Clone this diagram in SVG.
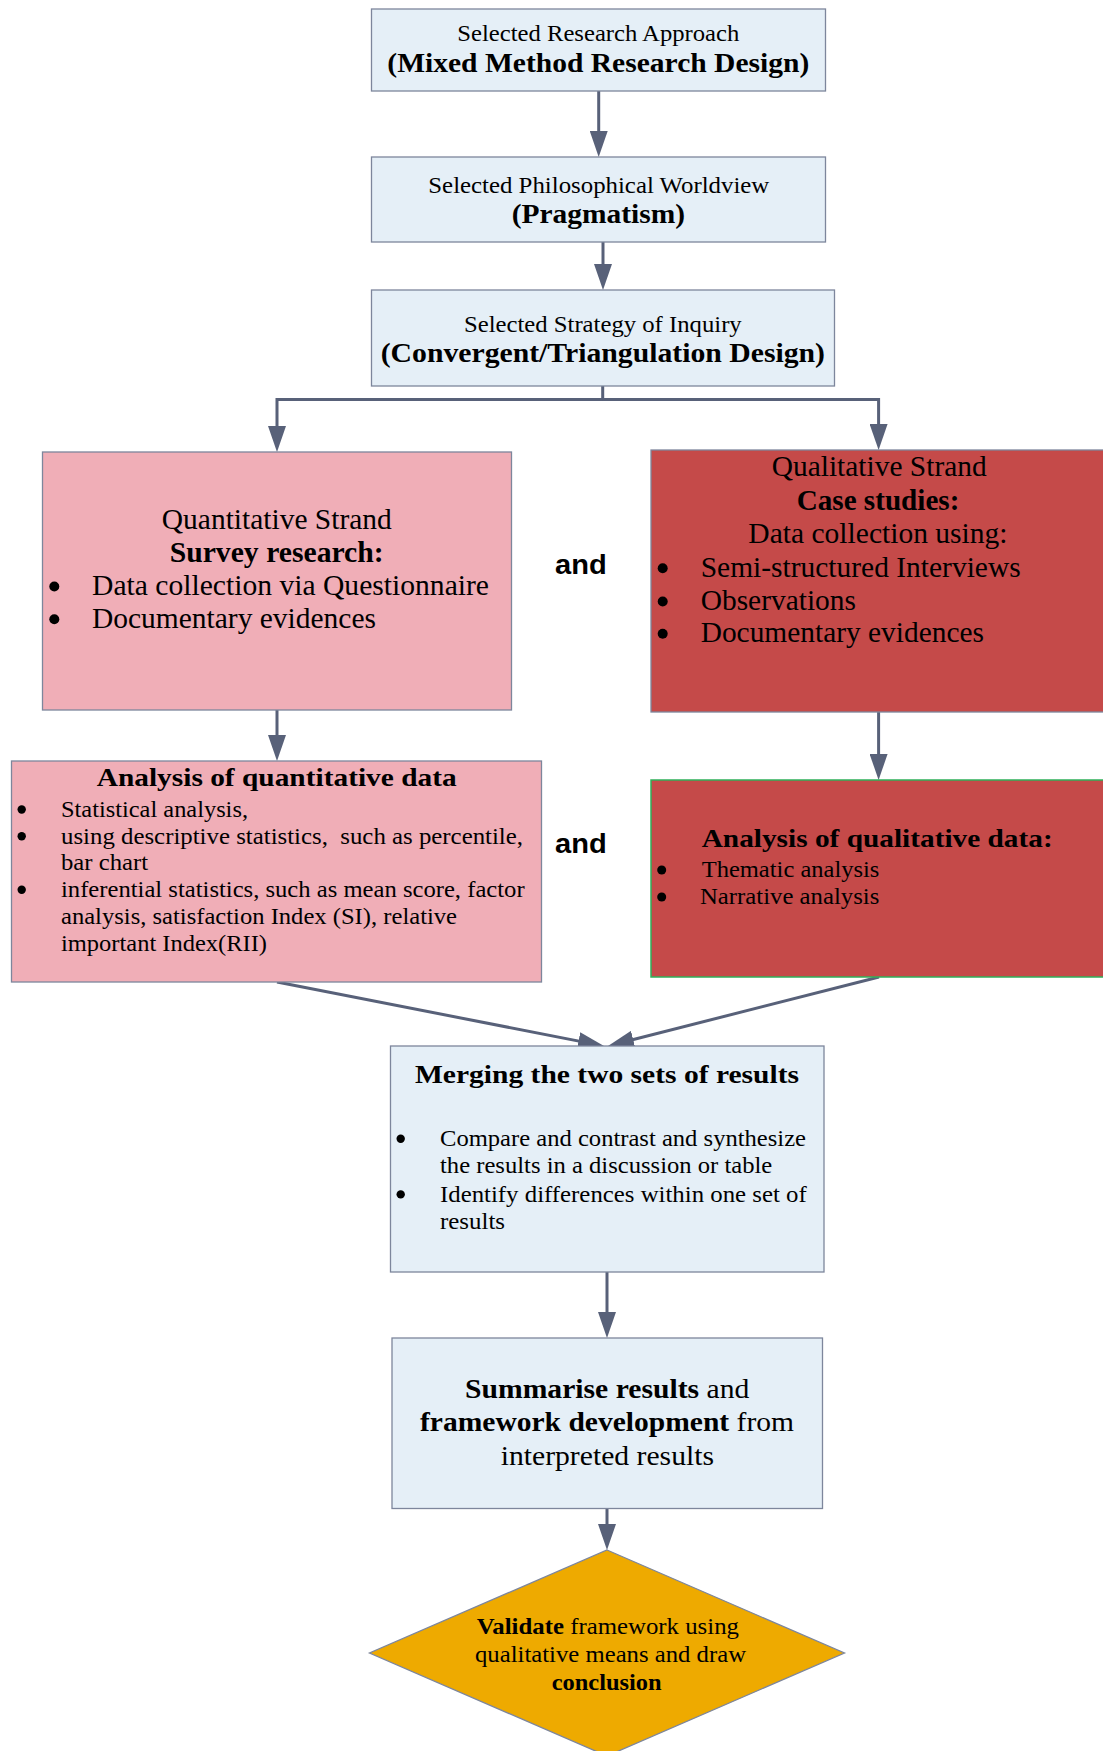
<svg xmlns="http://www.w3.org/2000/svg" width="1103" height="1751" viewBox="0 0 1103 1751">
  <style>
    .t { font-family: "Liberation Serif", "Times New Roman", Tinos, Times, serif; fill: #000; }
    .b { font-weight: bold; }
    .and { font-family: "Liberation Sans", Arial, Arimo, sans-serif; font-weight: bold; font-size: 28px; fill: #000; }
    .blue { fill: #e5eff7; stroke: #7d869c; stroke-width: 1.3; }
    .pink { fill: #f0aeb7; stroke: #7d869c; stroke-width: 1.3; }
    .red { fill: #c54a49; stroke: #7d869c; stroke-width: 1.3; }
    .redg { fill: #c54a49; stroke: #2fb05a; stroke-width: 1.5; }
    .gold { fill: #eeaa00; stroke: #7d869c; stroke-width: 1.3; }
    .dot { fill: #000; }
    .conn { fill: none; stroke: #586179; stroke-width: 3; marker-end: url(#arrow); }
  </style>
  <defs>
    <marker id="arrow" markerUnits="userSpaceOnUse" markerWidth="26" markerHeight="18" refX="16" refY="9" orient="auto">
      <path d="M0,0 L26,9 L0,18 Z" fill="#586179"/>
    </marker>
  </defs>

  <rect width="1103" height="1751" fill="#ffffff"/>

  <!-- connectors -->
  <g id="connectors">
    <path class="conn" d="M598.7,91 V147"/>
    <path class="conn" d="M603,242 V280"/>
    <path class="conn" d="M602.7,386 V399.5 H277 V442"/>
    <path class="conn" d="M602.7,399.5 H878.6 V440"/>
    <path class="conn" d="M277,710 V751"/>
    <path class="conn" d="M878.6,712 V770"/>
    <path class="conn" d="M277,982 L594.2,1044.1"/>
    <path class="conn" d="M879,977 L617.7,1043.5"/>
    <path class="conn" d="M607,1272 V1328"/>
    <path class="conn" d="M607,1508.7 V1540"/>
  </g>

  <!-- research approach -->
  <g id="approach">
    <rect class="blue" x="371.5" y="9" width="454" height="82"/>
    <text class="t" font-size="24" x="457.3" y="40.7" textLength="282" lengthAdjust="spacingAndGlyphs">Selected Research Approach</text>
    <text class="t b" font-size="28" x="387.3" y="71.7" textLength="422" lengthAdjust="spacingAndGlyphs">(Mixed Method Research Design)</text>
  </g>

  <!-- worldview -->
  <g id="worldview">
    <rect class="blue" x="371.5" y="157" width="454" height="85"/>
    <text class="t" font-size="24" x="428.3" y="192.7" textLength="341" lengthAdjust="spacingAndGlyphs">Selected Philosophical Worldview</text>
    <text class="t b" font-size="28" x="511.7" y="223.3" textLength="173.3" lengthAdjust="spacingAndGlyphs">(Pragmatism)</text>
  </g>

  <!-- strategy of inquiry -->
  <g id="strategy">
    <rect class="blue" x="371.5" y="290" width="463" height="96"/>
    <text class="t" font-size="24" x="464" y="331.7" textLength="277.7" lengthAdjust="spacingAndGlyphs">Selected Strategy of Inquiry</text>
    <text class="t b" font-size="28" x="380.7" y="362.3" textLength="444.3" lengthAdjust="spacingAndGlyphs">(Convergent/Triangulation Design)</text>
  </g>

  <!-- quantitative strand -->
  <g id="quant-strand">
    <rect class="pink" x="42.5" y="452" width="469" height="258"/>
    <text class="t" font-size="29" x="161.8" y="529.3" textLength="230" lengthAdjust="spacingAndGlyphs">Quantitative Strand</text>
    <text class="t b" font-size="29" x="169.7" y="561.7" textLength="214" lengthAdjust="spacingAndGlyphs">Survey research:</text>
    <circle class="dot" cx="54.3" cy="586.5" r="5"/>
    <text class="t" font-size="29" x="92" y="595" textLength="397" lengthAdjust="spacingAndGlyphs">Data collection via Questionnaire</text>
    <circle class="dot" cx="54.3" cy="619.2" r="5"/>
    <text class="t" font-size="29" x="92" y="627.7" textLength="284" lengthAdjust="spacingAndGlyphs">Documentary evidences</text>
  </g>

  <text id="and-1" class="and" x="555" y="574.3" textLength="51.7" lengthAdjust="spacingAndGlyphs">and</text>

  <!-- qualitative strand -->
  <g id="qual-strand">
    <rect class="red" x="651" y="450" width="456" height="262"/>
    <text class="t" font-size="29" x="771.7" y="476" textLength="215" lengthAdjust="spacingAndGlyphs">Qualitative Strand</text>
    <text class="t b" font-size="29" x="796.7" y="510" textLength="162.7" lengthAdjust="spacingAndGlyphs">Case studies:</text>
    <text class="t" font-size="29" x="748.3" y="543.3" textLength="259.3" lengthAdjust="spacingAndGlyphs">Data collection using:</text>
    <circle class="dot" cx="662.7" cy="568.2" r="5"/>
    <text class="t" font-size="29" x="700.7" y="576.7" textLength="320" lengthAdjust="spacingAndGlyphs">Semi-structured Interviews</text>
    <circle class="dot" cx="662.7" cy="601.5" r="5"/>
    <text class="t" font-size="29" x="700.7" y="610" textLength="155.3" lengthAdjust="spacingAndGlyphs">Observations</text>
    <circle class="dot" cx="662.7" cy="633.8" r="5"/>
    <text class="t" font-size="29" x="700.7" y="642.3" textLength="283.3" lengthAdjust="spacingAndGlyphs">Documentary evidences</text>
  </g>

  <!-- quantitative analysis -->
  <g id="quant-analysis">
    <rect class="pink" x="11.5" y="761" width="530" height="221"/>
    <text class="t b" font-size="26" x="96.7" y="786" textLength="360" lengthAdjust="spacingAndGlyphs">Analysis of quantitative data</text>
    <circle class="dot" cx="21.7" cy="809.5" r="4.2"/>
    <text class="t" font-size="24" x="61" y="816.7" textLength="187" lengthAdjust="spacingAndGlyphs">Statistical analysis,</text>
    <circle class="dot" cx="21.7" cy="836.3" r="4.2"/>
    <text class="t" font-size="24" x="61" y="843.5" textLength="462" lengthAdjust="spacingAndGlyphs" xml:space="preserve">using descriptive statistics,  such as percentile,</text>
    <text class="t" font-size="24" x="61" y="870.3" textLength="87" lengthAdjust="spacingAndGlyphs">bar chart</text>
    <circle class="dot" cx="21.7" cy="889.8" r="4.2"/>
    <text class="t" font-size="24" x="61" y="897" textLength="463.6" lengthAdjust="spacingAndGlyphs">inferential statistics, such as mean score, factor</text>
    <text class="t" font-size="24" x="61" y="923.8" textLength="396" lengthAdjust="spacingAndGlyphs">analysis, satisfaction Index (SI), relative</text>
    <text class="t" font-size="24" x="61" y="950.6" textLength="206" lengthAdjust="spacingAndGlyphs">important Index(RII)</text>
  </g>

  <text id="and-2" class="and" x="555" y="853.3" textLength="51.7" lengthAdjust="spacingAndGlyphs">and</text>

  <!-- qualitative analysis -->
  <g id="qual-analysis">
    <rect class="redg" x="651" y="780" width="456" height="197"/>
    <text class="t b" font-size="26" x="701.7" y="847.3" textLength="351" lengthAdjust="spacingAndGlyphs">Analysis of qualitative data:</text>
    <circle class="dot" cx="661.7" cy="870" r="4.5"/>
    <text class="t" font-size="24" x="701.7" y="877.3" textLength="177.7" lengthAdjust="spacingAndGlyphs">Thematic analysis</text>
    <circle class="dot" cx="661.7" cy="897" r="4.5"/>
    <text class="t" font-size="24" x="700" y="904.3" textLength="179.3" lengthAdjust="spacingAndGlyphs">Narrative analysis</text>
  </g>

  <!-- merging -->
  <g id="merging">
    <rect class="blue" x="390.5" y="1046" width="433.5" height="226"/>
    <text class="t b" font-size="26" x="415" y="1083.3" textLength="384" lengthAdjust="spacingAndGlyphs">Merging the two sets of results</text>
    <circle class="dot" cx="400.7" cy="1138.7" r="4.2"/>
    <text class="t" font-size="24" x="440" y="1146" textLength="366" lengthAdjust="spacingAndGlyphs">Compare and contrast and synthesize</text>
    <text class="t" font-size="24" x="440" y="1173.3" textLength="332.3" lengthAdjust="spacingAndGlyphs">the results in a discussion or table</text>
    <circle class="dot" cx="400.7" cy="1194.4" r="4.2"/>
    <text class="t" font-size="24" x="440" y="1201.7" textLength="366.7" lengthAdjust="spacingAndGlyphs">Identify differences within one set of</text>
    <text class="t" font-size="24" x="440" y="1229.3" textLength="65" lengthAdjust="spacingAndGlyphs">results</text>
  </g>

  <!-- summary -->
  <g id="summarise">
    <rect class="blue" x="392" y="1338" width="430.5" height="170.5"/>
    <text class="t" font-size="28" x="465" y="1398.3" textLength="284.3" lengthAdjust="spacingAndGlyphs"><tspan class="b">Summarise results</tspan> and</text>
    <text class="t" font-size="28" x="420" y="1430.7" textLength="374" lengthAdjust="spacingAndGlyphs"><tspan class="b">framework development</tspan> from</text>
    <text class="t" font-size="28" x="500.7" y="1465" textLength="213.3" lengthAdjust="spacingAndGlyphs">interpreted results</text>
  </g>

  <!-- validation -->
  <g id="validate">
    <polygon class="gold" points="607,1550 844.5,1653 607,1756 369.5,1653"/>
    <text class="t" font-size="23" x="476.7" y="1634" textLength="262.3" lengthAdjust="spacingAndGlyphs"><tspan class="b">Validate</tspan> framework using</text>
    <text class="t" font-size="23" x="475" y="1662.3" textLength="271" lengthAdjust="spacingAndGlyphs">qualitative means and draw</text>
    <text class="t b" font-size="23" x="551.7" y="1690" textLength="110" lengthAdjust="spacingAndGlyphs">conclusion</text>
  </g>
</svg>
